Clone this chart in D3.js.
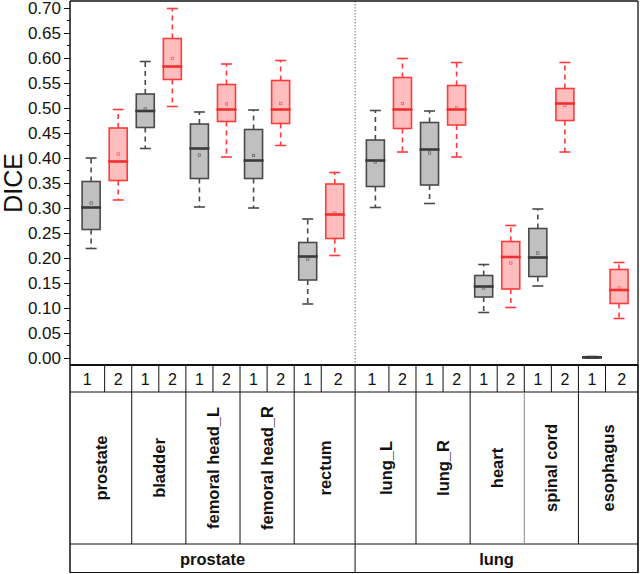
<!DOCTYPE html>
<html><head><meta charset="utf-8">
<script src="https://cdn.jsdelivr.net/npm/d3@7"></script>
<style>body{margin:0;background:#fff}svg{display:block;font-family:"Liberation Sans",Arial,sans-serif}</style>
</head><body>
<svg id="c" width="640" height="574"></svg>
<script>
// ---- data ----
const organs = ["prostate","bladder","femoral head_L","femoral head_R","rectum","lung_L","lung_R","heart","spinal cord","esophagus"];
const organGroup = ["prostate","prostate","prostate","prostate","prostate","lung","lung","lung","lung","lung"];
const groups = ["prostate","lung"];
const seriesNames = ["1","2"];
const yTicks = [0,0.05,0.10,0.15,0.20,0.25,0.30,0.35,0.40,0.45,0.50,0.55,0.60,0.65,0.70];
// series 1 (gray)
const s1Min  = [0.219,0.419,0.302,0.300,0.108,0.301,0.309,0.091,0.144,0.000];
const s1Q1   = [0.257,0.461,0.359,0.359,0.156,0.343,0.346,0.122,0.163,0.0005];
const s1Med  = [0.301,0.494,0.419,0.395,0.203,0.395,0.417,0.143,0.201,0.0012];
const s1Q3   = [0.353,0.528,0.468,0.457,0.231,0.436,0.471,0.165,0.259,0.0025];
const s1Max  = [0.400,0.593,0.492,0.496,0.278,0.495,0.494,0.187,0.298,0.003];
const s1Mean = [0.310,0.498,0.406,0.405,0.198,0.392,0.410,0.140,0.210,0.001];
// series 2 (red)
const s2Min  = [0.316,0.503,0.402,0.425,0.205,0.412,0.402,0.101,0.412,0.079];
const s2Q1   = [0.355,0.557,0.473,0.469,0.239,0.459,0.466,0.138,0.475,0.109];
const s2Med  = [0.393,0.583,0.497,0.497,0.287,0.497,0.497,0.202,0.509,0.136];
const s2Q3   = [0.460,0.639,0.547,0.555,0.348,0.561,0.545,0.233,0.539,0.177];
const s2Max  = [0.497,0.699,0.588,0.595,0.371,0.599,0.591,0.265,0.591,0.191];
const s2Mean = [0.408,0.599,0.508,0.509,0.290,0.509,0.500,0.190,0.505,0.140];

const series = [
  {name:"1", min:s1Min,q1:s1Q1,med:s1Med,q3:s1Q3,max:s1Max,mean:s1Mean, stroke:"#4a4a4a", fill:"#c0c0c0", medStroke:"#3a3a3a"},
  {name:"2", min:s2Min,q1:s2Q1,med:s2Med,q3:s2Q3,max:s2Max,mean:s2Mean, stroke:"#ff3b3b", fill:"#ffbdbd", medStroke:"#f03030"}
];

// ---- layout ----
const svg = d3.select("#c");
const L = 70, R = 638, T = 1, B = 365;
const row1 = 392, row2 = 544, row3 = 573;
const x = d3.scaleLinear().domain([0.22, 21.2]).range([L, R]);
const y = d3.scaleLinear().domain([-0.014, 0.714]).range([B, T]);

function pos(oi, si){ return 1 + oi*2 + si + (organGroup[oi]==="lung" ? 0.5 : 0); }
const groupEdges = [0.22, 10.75, 21.2];

// group divider (dotted)
svg.append("line").attr("x1",x(10.75)).attr("x2",x(10.75)).attr("y1",T).attr("y2",B)
  .attr("stroke","#777").attr("stroke-width",1).attr("stroke-dasharray","1.5,1.5");

// y axis
const yAxis = d3.axisLeft(y).tickValues(yTicks).tickFormat(d3.format(".2f")).tickSize(6).tickPadding(3);
const ga = svg.append("g").attr("transform",`translate(${L},0)`).call(yAxis);
ga.select(".domain").remove();
ga.selectAll("text").attr("font-size",17).attr("fill","#111").attr("font-family","Liberation Sans, Arial");
ga.selectAll("line").attr("stroke","#111");
const minor = d3.range(0.025, 0.70, 0.05);
svg.append("g").selectAll("line").data(minor).join("line")
  .attr("x1",L-3).attr("x2",L).attr("y1",d=>y(d)).attr("y2",d=>y(d)).attr("stroke","#111");

svg.append("text").attr("transform",`translate(22,${y(0.35)}) rotate(-90)`)
  .attr("text-anchor","middle").attr("font-size",25).attr("fill","#111").text("DICE");

// frame
svg.append("line").attr("x1",L).attr("x2",R).attr("y1",T).attr("y2",T).attr("stroke","#111").attr("stroke-width",1.5);
svg.append("line").attr("x1",R).attr("x2",R).attr("y1",T).attr("y2",row3).attr("stroke","#111").attr("stroke-width",1.3);
svg.append("line").attr("x1",L).attr("x2",L).attr("y1",T).attr("y2",row3).attr("stroke","#111").attr("stroke-width",1.5);

// boxes
const bw = 18, cw = 11;
series.forEach((s, si) => {
  const g = svg.append("g");
  organs.forEach((o, oi) => {
    const cx = x(pos(oi, si));
    const gg = g.append("g");
    gg.append("line").attr("x1",cx).attr("x2",cx).attr("y1",y(s.q3[oi])).attr("y2",y(s.max[oi]))
      .attr("stroke",s.stroke).attr("stroke-width",1.6).attr("stroke-dasharray","5,4");
    gg.append("line").attr("x1",cx).attr("x2",cx).attr("y1",y(s.q1[oi])).attr("y2",y(s.min[oi]))
      .attr("stroke",s.stroke).attr("stroke-width",1.6).attr("stroke-dasharray","5,4");
    [s.max[oi], s.min[oi]].forEach(v => {
      gg.append("line").attr("x1",cx-cw/2).attr("x2",cx+cw/2).attr("y1",y(v)).attr("y2",y(v))
        .attr("stroke",s.stroke).attr("stroke-width",1.6);
    });
    gg.append("rect").attr("x",cx-bw/2).attr("width",bw)
      .attr("y",y(s.q3[oi])).attr("height",Math.max(0.5, y(s.q1[oi])-y(s.q3[oi])))
      .attr("fill",s.fill).attr("stroke",s.stroke).attr("stroke-width",1.6);
    gg.append("line").attr("x1",cx-bw/2-1).attr("x2",cx+bw/2+1).attr("y1",y(s.med[oi])).attr("y2",y(s.med[oi]))
      .attr("stroke",s.medStroke).attr("stroke-width",2.6);
    gg.append("rect").attr("x",cx-1.2).attr("y",y(s.mean[oi])-1.2).attr("width",2.4).attr("height",2.4)
      .attr("fill","none").attr("stroke",s.stroke).attr("stroke-width",0.7).attr("opacity",0.8);
  });
});

// ---- table ----
const tl = svg.append("g").attr("stroke","#111").attr("stroke-width",1);
tl.append("line").attr("x1",L).attr("x2",R).attr("y1",B).attr("y2",B).attr("stroke-width",2);
[row1,row2].forEach(r => tl.append("line").attr("x1",L).attr("x2",R).attr("y1",r).attr("y2",r));
tl.append("line").attr("x1",L).attr("x2",R).attr("y1",row3-0.5).attr("y2",row3-0.5);

const cells = [];
organs.forEach((o, oi) => {
  seriesNames.forEach((sn, si) => {
    const p = pos(oi, si);
    const gi = groups.indexOf(organGroup[oi]);
    const first = (si===0 && (oi===0 || organGroup[oi-1]!==organGroup[oi]));
    const last = (si===1 && (oi===organs.length-1 || organGroup[oi+1]!==organGroup[oi]));
    const a = first ? groupEdges[gi] : p-0.5;
    const b = last ? groupEdges[gi+1] : p+0.5;
    cells.push({oi, si, sn, a, b});
  });
});
cells.forEach(c => {
  tl.append("line").attr("x1",x(c.b)).attr("x2",x(c.b)).attr("y1",B).attr("y2",row1);
});
svg.append("g").selectAll("text").data(cells).join("text")
  .attr("x",d=>(x(d.a)+x(d.b))/2).attr("y",(B+row1)/2+6)
  .attr("text-anchor","middle").attr("font-size",16).attr("fill","#111").text(d=>d.sn);
organs.forEach((o, oi) => {
  const a = cells[oi*2].a, b = cells[oi*2+1].b;
  tl.append("line").attr("x1",x(b)).attr("x2",x(b)).attr("y1",row1).attr("y2",row2)
    .attr("stroke", o==="heart" ? "#888" : "#111");
  svg.append("text").attr("transform",`translate(${(x(a)+x(b))/2+6},${(row1+row2)/2}) rotate(-90)`)
    .attr("text-anchor","middle").attr("font-size",16.5).attr("font-weight","bold").attr("fill","#111").text(o);
});
groups.forEach((g, gi) => {
  tl.append("line").attr("x1",x(groupEdges[gi+1])).attr("x2",x(groupEdges[gi+1])).attr("y1",row2).attr("y2",row3);
  svg.append("text").attr("x",(x(groupEdges[gi])+x(groupEdges[gi+1]))/2).attr("y",(row2+row3)/2+6)
    .attr("text-anchor","middle").attr("font-size",16.5).attr("font-weight","bold").attr("fill","#111").text(g);
});
</script>
</body></html>
